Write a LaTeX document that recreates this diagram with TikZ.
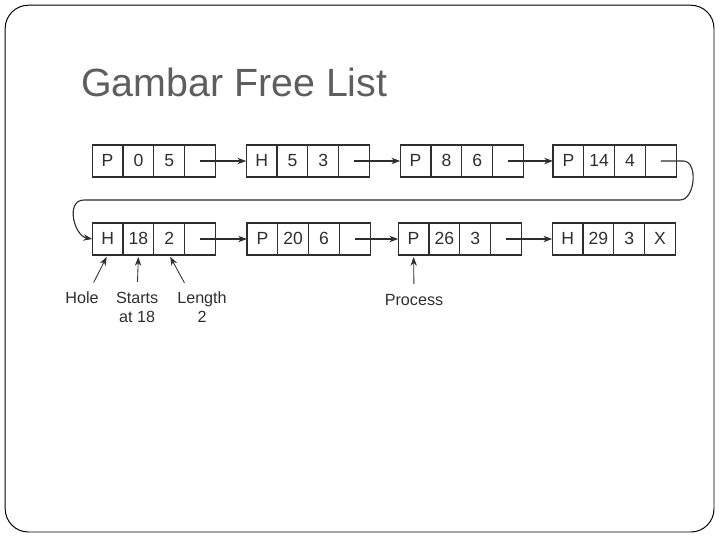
\documentclass[tikz,border=0pt]{standalone}
\usepackage{fontspec}
\setmainfont{Liberation Sans}
\usetikzlibrary{arrows.meta, positioning}
\definecolor{ink}{HTML}{2E2E2E}
\definecolor{ttlgray}{HTML}{5E5E5E}

\begin{document}
\begin{tikzpicture}[
  >={Stealth[length=2.2mm, width=1.6mm]},
  cell/.style={draw=ink, line width=0.8pt, minimum width=0.77cm, minimum height=0.8cm,
    inner sep=0pt, outer sep=0pt, text=ink, text height=1.6ex, text depth=0ex,
    font=\fontsize{12.5}{14}\selectfont},
  link/.style={->, draw=ink, line width=0.8pt},
  note/.style={->, draw=ink, line width=0.6pt, shorten <=0.22cm, shorten >=0.05cm},
  lbl/.style={font=\fontsize{11.5}{13.5}\selectfont, text=ink, align=center, inner sep=1pt},
]

% Slide frame
\useasboundingbox (0,0) rectangle (18,-13.5);
\draw[black, line width=0.7pt, rounded corners=0.58cm] (0.13,-0.13) rectangle (17.85,-13.3);

% Title
\node[font=\fontsize{28}{32}\selectfont, text=ttlgray, anchor=base west, inner sep=0pt]
  (title) at (2.02,-2.4) {Gambar Free List};

% === Row positions ===
\def\rA{-4.025}
\def\rB{-5.975}

% Row 1
\node[cell] (a1) at (2.69,\rA) {P};
\node[cell, right=0pt of a1] (a2) {0};
\node[cell, right=0pt of a2] (a3) {5};
\node[cell, right=0pt of a3] (a4) {};

\node[cell] (b1) at (6.54,\rA) {H};
\node[cell, right=0pt of b1] (b2) {5};
\node[cell, right=0pt of b2] (b3) {3};
\node[cell, right=0pt of b3] (b4) {};

\node[cell] (c1) at (10.39,\rA) {P};
\node[cell, right=0pt of c1] (c2) {8};
\node[cell, right=0pt of c2] (c3) {6};
\node[cell, right=0pt of c3] (c4) {};

\node[cell] (d1) at (14.21,\rA) {P};
\node[cell, right=0pt of d1] (d2) {14};
\node[cell, right=0pt of d2] (d3) {4};
\node[cell, right=0pt of d3] (d4) {};

% Row 2
\node[cell] (e1) at (2.69,\rB) {H};
\node[cell, right=0pt of e1] (e2) {18};
\node[cell, right=0pt of e2] (e3) {2};
\node[cell, right=0pt of e3] (e4) {};

\node[cell] (f1) at (6.56,\rB) {P};
\node[cell, right=0pt of f1] (f2) {20};
\node[cell, right=0pt of f2] (f3) {6};
\node[cell, right=0pt of f3] (f4) {};

\node[cell] (g1) at (10.34,\rB) {P};
\node[cell, right=0pt of g1] (g2) {26};
\node[cell, right=0pt of g2] (g3) {3};
\node[cell, right=0pt of g3] (g4) {};

\node[cell] (h1) at (14.19,\rB) {H};
\node[cell, right=0pt of h1] (h2) {29};
\node[cell, right=0pt of h2] (h3) {3};
\node[cell, right=0pt of h3] (h4) {X};

% Links
\draw[link] (a4.center) -- (b1.west);
\draw[link] (b4.center) -- (c1.west);
\draw[link] (c4.center) -- (d1.west);
\draw[link] (e4.center) -- (f1.west);
\draw[link] (f4.center) -- (g1.west);
\draw[link] (g4.center) -- (h1.west);

% Wrap-around link
\coordinate (wrapR) at (17.08,\rA);
\coordinate (wrapRB) at (17.0,-5.0);
\coordinate (wrapLB) at (2.1,-5.0);
\draw[link] (d4.center) -- (wrapR) to[out=0, in=0] (wrapRB) -- (wrapLB)
  to[out=180, in=170, looseness=1.2] (e1.west);

% Labels
\node[lbl] (hole) at (2.05,-7.45) {Hole};
\node[lbl] (starts) at (3.43,-7.69) {Starts\\at 18};
\node[lbl] (length) at (5.05,-7.69) {Length\\2};
\node[lbl] (process) at (10.35,-7.5) {Process};

\draw[note] (hole.45) -- (e1.south);
\draw[note] (starts.north) -- (e2.south);
\draw[note] (length.128) -- (e3.south);
\draw[note] (process.north) -- (g1.south);

\end{tikzpicture}
\end{document}
